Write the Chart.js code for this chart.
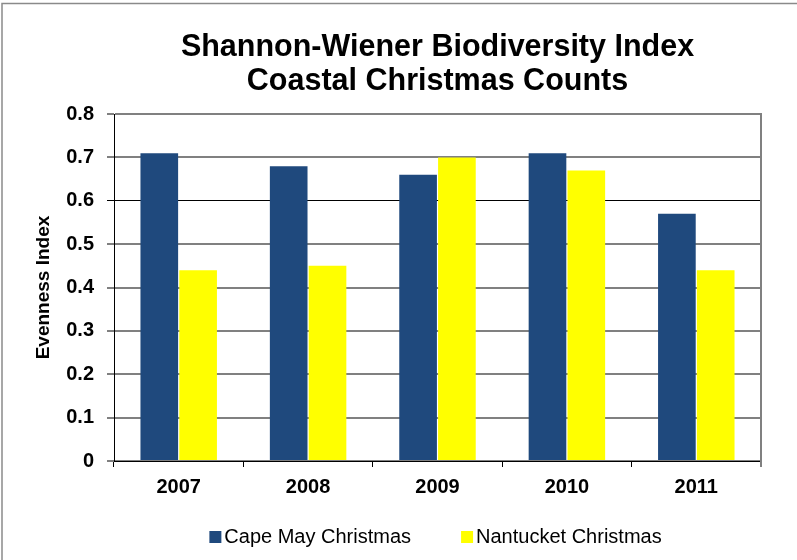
<!DOCTYPE html>
<html>
<head>
<meta charset="utf-8">
<script src="https://cdn.jsdelivr.net/npm/chart.js@4/dist/chart.umd.min.js"></script>
<style>
  html, body { margin: 0; padding: 0; background: #fff; }
  #wrap { width: 797px; height: 560px; position: relative; }
</style>
</head>
<body>
<div id="wrap"><canvas id="c" width="797" height="560"></canvas></div>
<script>
// Shannon-Wiener evenness per year for two coastal Christmas bird counts
const years = ['2007', '2008', '2009', '2010', '2011'];
const capeMay = [0.71, 0.68, 0.66, 0.71, 0.57];
const nantucket = [0.44, 0.45, 0.70, 0.67, 0.44];
const yTickLabels = ['0', '0.1', '0.2', '0.3', '0.4', '0.5', '0.6', '0.7', '0.8'];

const FONT = "'Liberation Sans', Arial, Helvetica, sans-serif";
const seriesColors = ['#1f497d', '#ffff00'];

// small square legend swatch, sitting close to its label
function swatch(color) {
  const c = document.createElement('canvas');
  c.width = 19;
  c.height = 12;
  const g = c.getContext('2d');
  g.fillStyle = color;
  g.fillRect(5, 0, 12, 12);
  return c;
}
const swatches = seriesColors.map(swatch);

// outer frame around the whole figure plus the right edge of the plot box
const framePlugin = {
  id: 'frame',
  beforeDraw(chart) {
    const ctx = chart.ctx;
    ctx.save();
    ctx.strokeStyle = '#8a8a8a';
    ctx.lineWidth = 1.5;
    ctx.strokeRect(2, 3.5, chart.width + 20, chart.height + 20);
    ctx.restore();
  },
  afterDatasetsDraw(chart) {
    const {ctx, chartArea} = chart;
    ctx.save();
    ctx.strokeStyle = '#808080';
    ctx.lineWidth = 2;
    ctx.beginPath();
    ctx.moveTo(Math.round(chartArea.right), chartArea.top - 1);
    ctx.lineTo(Math.round(chartArea.right), chartArea.bottom + 6);
    ctx.stroke();
    ctx.restore();
  }
};

const defaultLabels = Chart.defaults.plugins.legend.labels.generateLabels;

new Chart(document.getElementById('c'), {
  type: 'bar',
  data: {
    labels: years,
    datasets: [
      {
        label: 'Cape May Christmas',
        data: capeMay,
        backgroundColor: seriesColors[0],
        borderWidth: 0
      },
      {
        label: 'Nantucket Christmas',
        data: nantucket,
        backgroundColor: seriesColors[1],
        borderWidth: 0
      }
    ]
  },
  options: {
    responsive: false,
    animation: false,
    layout: { padding: { left: 0, right: 36, top: 10, bottom: 3 } },
    datasets: {
      bar: { categoryPercentage: 0.6, barPercentage: 0.97 }
    },
    plugins: {
      title: {
        display: true,
        fullSize: false,
        text: ['Shannon-Wiener Biodiversity Index', 'Coastal Christmas Counts'],
        color: '#000',
        font: { family: FONT, size: 30.5, weight: 'bold', lineHeight: 1.1 },
        padding: { top: 21, bottom: 16 }
      },
      legend: {
        position: 'bottom',
        fullSize: false,
        labels: {
          color: '#000',
          font: { family: FONT, size: 20 },
          usePointStyle: true,
          boxWidth: 1,
          boxHeight: 12,
          padding: 54,
          generateLabels(chart) {
            const items = defaultLabels(chart);
            items.forEach((it, i) => { it.pointStyle = swatches[i]; });
            return items;
          }
        }
      },
      tooltip: { enabled: false }
    },
    scales: {
      x: {
        offset: true,
        afterFit(scale) {
          scale.height = 12;
          // year labels hang below the thin axis box; keep them unclipped
          scale._computeLabelArea = () => undefined;
        },
        grid: {
          offset: true,
          drawOnChartArea: false,
          drawTicks: true,
          tickLength: 6,
          color: '#000'
        },
        border: { display: true, color: '#000', width: 1 },
        ticks: {
          color: '#000',
          padding: 8,
          font: { family: FONT, size: 20, weight: 'bold' }
        }
      },
      y: {
        min: 0,
        max: 0.8,
        afterFit(scale) { scale.width = 114; },
        ticks: {
          stepSize: 0.1,
          color: '#000',
          padding: 13,
          font: { family: FONT, size: 20, weight: 'bold' },
          callback: (v, i) => yTickLabels[i]
        },
        grid: {
          color: (ctx) => (ctx.index === 6 ? '#000' : '#808080'),
          lineWidth: (ctx) => (ctx.index === 6 ? 1 : 2),
          tickColor: '#000',
          tickWidth: 1,
          tickLength: 7
        },
        border: { display: true, color: '#000', width: 1 },
        title: {
          display: true,
          text: 'Evenness Index',
          color: '#000',
          font: { family: FONT, size: 19, weight: 'bold', lineHeight: 1.2 },
          padding: { top: 32, bottom: 0 }
        }
      }
    }
  },
  plugins: [framePlugin]
});
</script>
</body>
</html>
